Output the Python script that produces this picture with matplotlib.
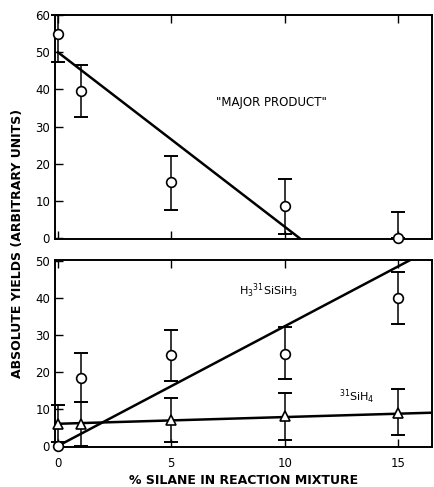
import matplotlib.pyplot as plt

# % silane in reaction mixture
silane_pct = [0, 1, 5, 10, 15]

# "major product" yields (top panel)
major_y = [55, 39.5, 15, 8.5, 0]
major_err_lo = [7.5, 7, 7.5, 7.5, 0]
major_err_hi = [5, 7, 7, 7.5, 7]
major_fit_x = [0, 10.65]
major_fit_y = [50, 0]

# H3(31)SiSiH3 yields (bottom panel, circles)
disilane_y = [0, 18.5, 24.5, 25, 40]
disilane_err_lo = [0, 6.6, 7, 7, 7]
disilane_err_hi = [0, 6.6, 7, 7.3, 7]
disilane_fit_x = [0, 15.6]
disilane_fit_y = [0, 50.5]

# (31)SiH4 yields (bottom panel, triangles)
silane_y = [6, 6, 7, 8, 9]
silane_err_lo = [5, 6, 6, 6.5, 6]
silane_err_hi = [5, 6, 6, 6.3, 6.4]
silane_fit_x = [0, 16.5]
silane_fit_y = [6.0, 9.0]

plt.rcParams['font.family'] = 'DejaVu Sans'

fig = plt.figure(figsize=(4.35, 4.87), dpi=100)
ax1 = fig.add_axes([0.1264, 0.509, 0.8666, 0.460])
ax2 = fig.add_axes([0.1264, 0.082, 0.8666, 0.384])

ebkw = dict(fmt='none', ecolor='black', elinewidth=1.1, capsize=5, capthick=1.4, clip_on=False, zorder=2)
mkw = dict(linestyle='none', mfc='white', mec='black', mew=1.2, ms=7, clip_on=False, zorder=4)

# top panel
ax1.plot(major_fit_x, major_fit_y, color='black', lw=1.8, zorder=3)
ax1.errorbar(silane_pct, major_y, yerr=[major_err_lo, major_err_hi], **ebkw)
ax1.plot(silane_pct, major_y, marker='o', **mkw)
ax1.text(9.4, 36.6, '"MAJOR PRODUCT"', fontsize=8.5, ha='center', va='center')

# bottom panel
ax2.plot(disilane_fit_x, disilane_fit_y, color='black', lw=1.8, zorder=3)
ax2.plot(silane_fit_x, silane_fit_y, color='black', lw=1.8, zorder=3)
ax2.errorbar(silane_pct[1:], disilane_y[1:], yerr=[disilane_err_lo[1:], disilane_err_hi[1:]], **ebkw)
ax2.errorbar(silane_pct, silane_y, yerr=[silane_err_lo, silane_err_hi], **ebkw)
ax2.plot(silane_pct, disilane_y, marker='o', **mkw)
ax2.plot(silane_pct, silane_y, marker='^', **mkw)
ax2.text(9.3, 42, r'H$_3$$^{31}$SiSiH$_3$', fontsize=8, ha='center', va='center')
ax2.text(13.2, 13.2, r'$^{31}$SiH$_4$', fontsize=8, ha='center', va='center')

ax1.set_ylim(-0.3, 60)
ax2.set_ylim(-0.3, 50.3)
for ax in (ax1, ax2):
    ax.set_xlim(-0.13, 16.5)
    ax.set_xticks([0, 5, 10, 15])
    ax.tick_params(direction='in', length=6, width=1, top=True, labelsize=8.5)
    ax.tick_params(axis='x', pad=7)
    for s in ax.spines.values():
        s.set_linewidth(1.4)
ax1.set_yticks([0, 10, 20, 30, 40, 50, 60])
ax1.tick_params(labelbottom=False)
ax2.set_yticks([0, 10, 20, 30, 40, 50])

ax2.set_xlabel('% SILANE IN REACTION MIXTURE', fontsize=9, fontweight='bold', labelpad=3)
fig.text(0.04, 0.5, 'ABSOLUTE YIELDS (ARBITRARY UNITS)', rotation=90, fontsize=9,
         fontweight='bold', ha='center', va='center')

fig.savefig('out.png', dpi=100)
